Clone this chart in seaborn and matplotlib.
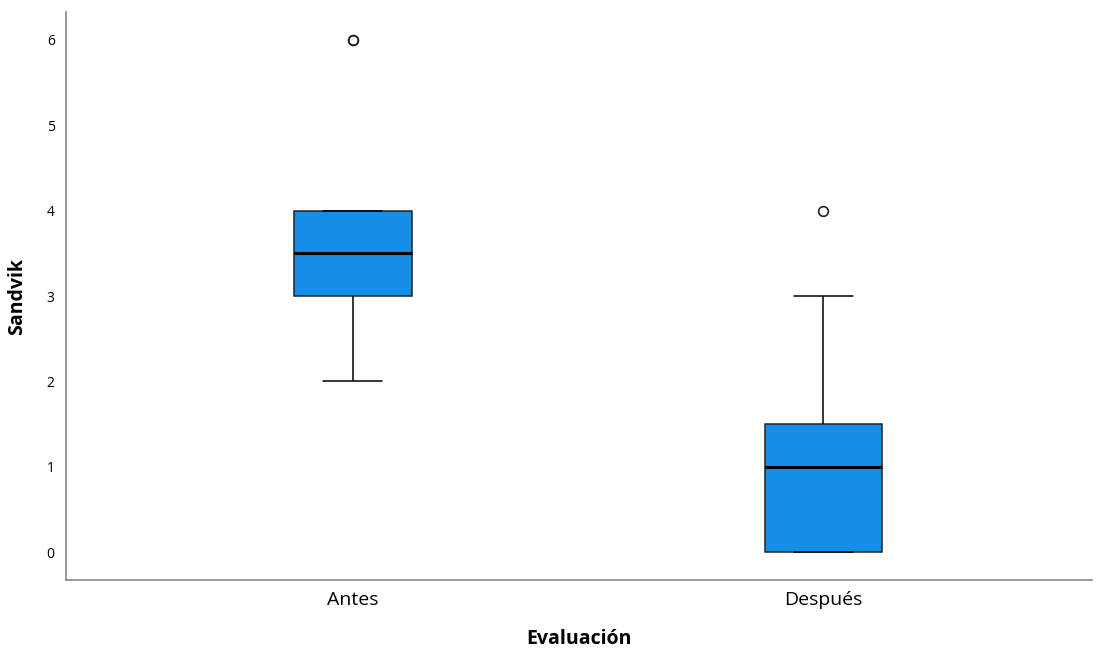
#!/usr/bin/env python3
"""
Boxplot of Sandvik scores before and after the intervention.
"""

import pandas as pd
import matplotlib
matplotlib.use("Agg")
import matplotlib.pyplot as plt
import seaborn as sns

# raw scores per evaluation
antes = [2, 3, 3, 3, 3, 3, 4, 4, 4, 4, 6, 6]
despues = [0, 0, 0, 0, 1, 1, 1, 1, 2, 3, 4]
categories = ["Antes", "Después"]
yticks = [0, 1, 2, 3, 4, 5, 6]

df = pd.DataFrame(
    {
        "Evaluación": [categories[0]] * len(antes) + [categories[1]] * len(despues),
        "Sandvik": antes + despues,
    }
)

sns.set_style("white")
plt.rcParams["font.family"] = ["Open Sans", "DejaVu Sans"]
plt.rcParams["text.color"] = "black"
plt.rcParams["axes.labelcolor"] = "black"
plt.rcParams["xtick.color"] = "black"
plt.rcParams["ytick.color"] = "black"

fig = plt.figure(figsize=(10.97, 6.52), dpi=100)
ax = fig.add_axes([0.060, 0.110, 0.935, 0.872])

sns.boxplot(
    data=df,
    x="Evaluación",
    y="Sandvik",
    order=categories,
    color="#148ee6",
    saturation=1,
    width=0.25,
    linewidth=1.1,
    linecolor="#222222",
    medianprops={"color": "black", "linewidth": 2.2},
    whiskerprops={"color": "black", "linewidth": 1.1},
    capprops={"color": "black", "linewidth": 1.1},
    flierprops={"marker": "o", "markersize": 7, "markerfacecolor": "none",
                "markeredgecolor": "#222222", "markeredgewidth": 1.2},
    ax=ax,
)

ax.set_xlim(-0.61, 1.57)
ax.set_ylim(-0.33, 6.33)
ax.set_yticks(yticks)
ax.tick_params(axis="y", length=0, labelsize=10, pad=8)
ax.tick_params(axis="x", length=0, labelsize=14, pad=8)
ax.set_xlabel("Evaluación", fontsize=14, fontweight="bold", labelpad=14)
ax.set_ylabel("Sandvik", fontsize=14, fontweight="bold", labelpad=14)

sns.despine(ax=ax)
for side in ["left", "bottom"]:
    ax.spines[side].set_color("#888888")
    ax.spines[side].set_linewidth(1.2)

fig.savefig("out.png", dpi=100)
